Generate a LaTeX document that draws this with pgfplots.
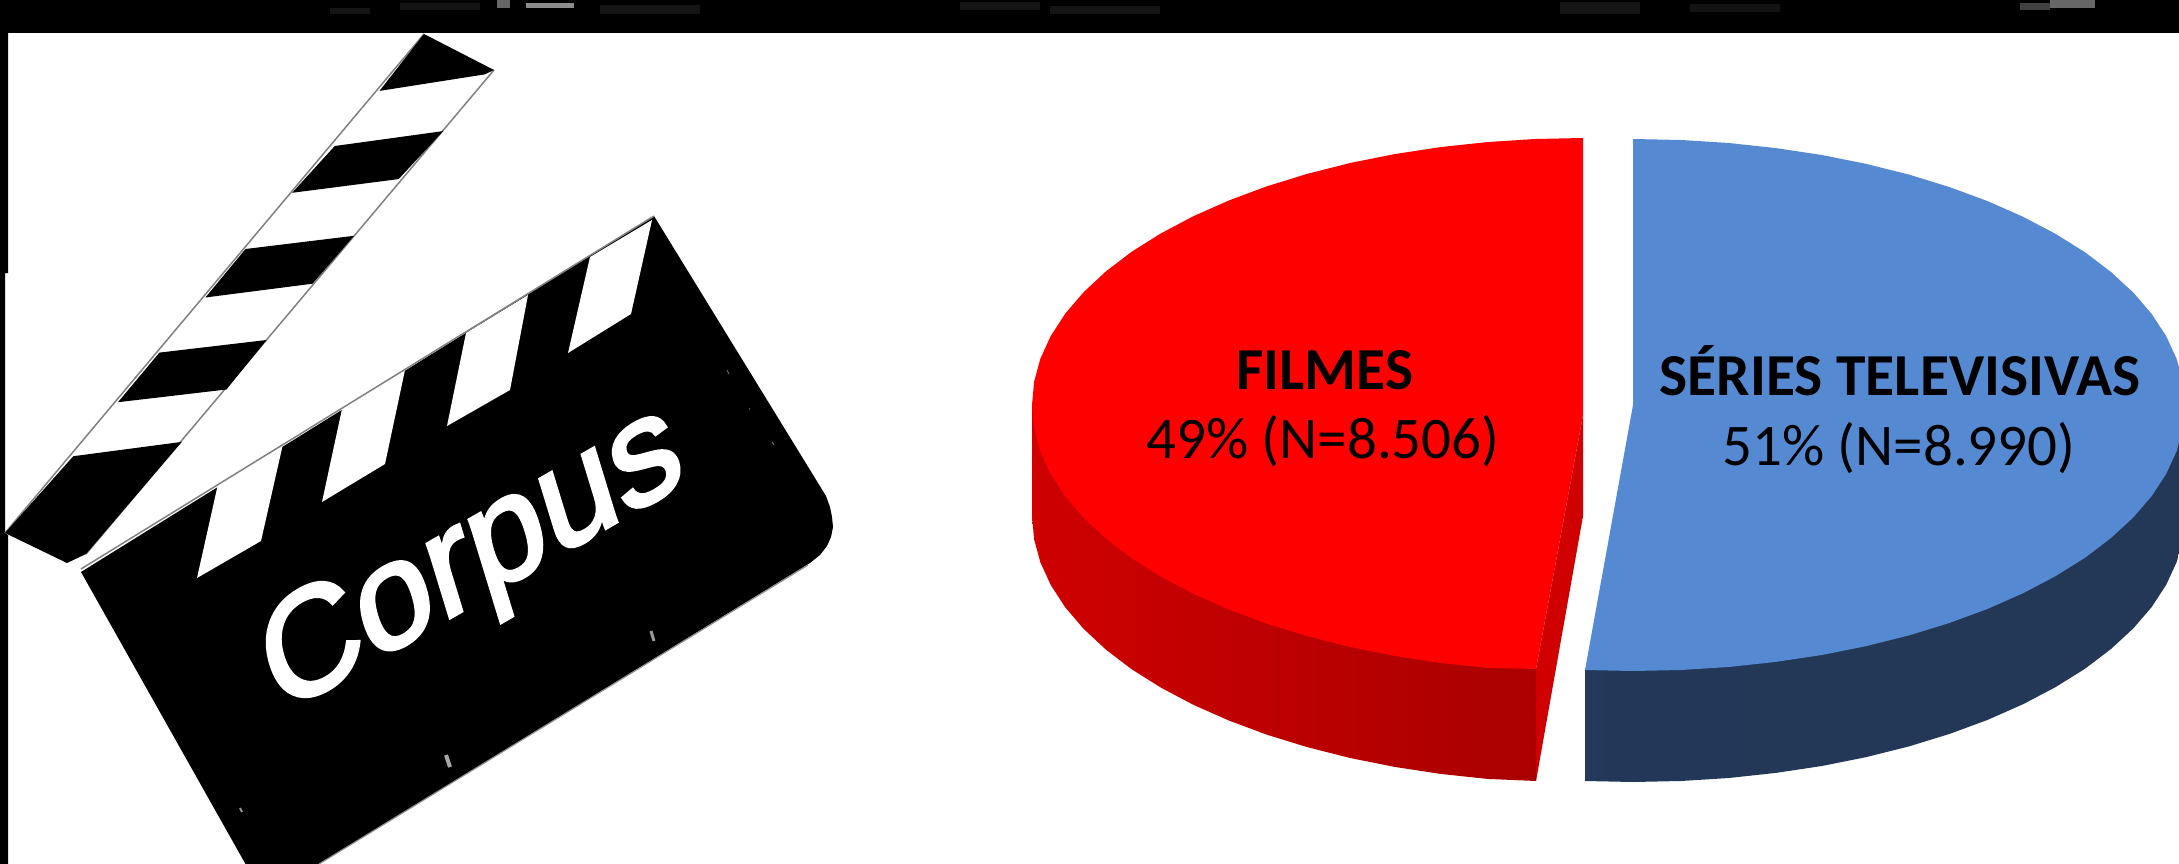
\documentclass[border=0pt]{standalone}
\usepackage{fontspec}
\usepackage{pgfplots}
\pgfplotsset{compat=1.18}
\setmainfont{Carlito}
\newfontfamily\corpusfont[FakeBold=2.5]{Liberation Sans}

\definecolor{pieRed}{RGB}{255,0,0}
\definecolor{pieRedInner}{RGB}{208,0,0}
\definecolor{pieBlue}{RGB}{85,138,211}
\pgfdeclarehorizontalshading{redside}{100bp}{
  rgb(0bp)=(0.847,0,0);
  rgb(25bp)=(0.808,0,0);
  rgb(55bp)=(0.722,0,0);
  rgb(80bp)=(0.647,0,0);
  rgb(100bp)=(0.588,0,0)}
\pgfdeclarehorizontalshading{blueside}{100bp}{
  rgb(0bp)=(0.188,0.322,0.478);
  rgb(15bp)=(0.169,0.290,0.439);
  rgb(27bp)=(0.137,0.220,0.345);
  rgb(100bp)=(0.137,0.212,0.333)}

\begin{document}
\begin{tikzpicture}
\begin{axis}[
  scale only axis, width=2179pt, height=864pt,
  xmin=0, xmax=2179, ymin=0, ymax=864, y dir=reverse,
  axis lines=none, clip=true,
  every axis plot/.append style={no markers, draw=none},
]
% frame left by the slide: dark band and narrow left strip
\addplot[fill=black] coordinates {(0,0)(2179,0)(2179,33)(0,33)};
\addplot[fill=black] coordinates {(0,33)(8,33)(8,273)(5,273)(5,533)(8,535)(8,864)(0,864)};
\addplot[fill=black!60] coordinates {(497,0)(510,0)(510,8)(497,8)};
\addplot[fill=black!45] coordinates {(526,3)(574,3)(574,8)(526,8)};
\addplot[fill=black!60] coordinates {(2050,0)(2095,0)(2095,8)(2050,8)};
\addplot[fill=black!75] coordinates {(2020,3)(2050,3)(2050,10)(2020,10)};
\addplot[fill=black!92] coordinates {(330,8)(370,8)(370,14)(330,14)};
\addplot[fill=black!92] coordinates {(400,3)(480,3)(480,10)(400,10)};
\addplot[fill=black!92] coordinates {(600,5)(700,5)(700,14)(600,14)};
\addplot[fill=black!92] coordinates {(960,2)(1040,2)(1040,10)(960,10)};
\addplot[fill=black!92] coordinates {(1050,6)(1160,6)(1160,14)(1050,14)};
\addplot[fill=black!92] coordinates {(1560,2)(1640,2)(1640,14)(1560,14)};
\addplot[fill=black!92] coordinates {(1690,4)(1780,4)(1780,12)(1690,12)};

% clapperboard stick: black bands on a thin grey outline
\addplot[draw=black!50, line width=1.5pt] coordinates {(424,34)(5,533)};
\addplot[draw=black!50, line width=1.5pt] coordinates {(494,70)(86,554)};
\addplot[fill=black] coordinates {(424,34)(494,70)(484.7,74.4)(379.5,90.9)};
\addplot[fill=black] coordinates {(334.8,146)(443.2,131.1)(398.6,179.1)(292.1,192.8)};
\addplot[fill=black] coordinates {(245.5,249)(354,235.8)(312.5,283.7)(205.4,297.5)};
\addplot[fill=black] coordinates {(159.4,352.6)(266.6,340)(226.4,389.5)(118,402.2)};
\addplot[fill=black] coordinates {(73.3,456.2)(181.8,441.9)(86,554)(67,563)(5,533)};

% clapperboard body with its rounded corner
\addplot[fill=black] coordinates {(654,216)(826,496)(830,507)(832,517)(833,527)(831,537)(827,546)(820,555)(810,563)(319,864)(245.5,864)(81,572)};
\addplot[fill=white] coordinates {(218,484)(283,444)(261,541)(197,578)};
\addplot[fill=white] coordinates {(342,409)(405,370)(385,464)(322,502)};
\addplot[fill=white] coordinates {(466,333)(528,295)(510,390)(447,426)};
\addplot[fill=white] coordinates {(590,257)(652,220)(631,314)(568,353)};
\addplot[draw=black!50, line width=1.5pt] coordinates {(654,216)(81,569)};
\addplot[draw=black!45, line width=1.2pt] coordinates {(808,565)(319,864)};
\addplot[draw=black!40, line width=3pt] coordinates {(651,631)(654,641)};
\addplot[draw=black!35, line width=4pt] coordinates {(446,755)(450,767)};
\addplot[draw=black!40, line width=2pt] coordinates {(240,808)(242,812)};
\addplot[draw=black!60, line width=1pt] coordinates {(727,370)(729,374)};
\addplot[draw=black!70, line width=1pt] coordinates {(749,408)(750,410)};
\addplot[draw=black!60, line width=1pt] coordinates {(772,442)(774,445)};
% the word leans with the slanted board: separate directions for baseline and stems
\coordinate (corpusorigin) at (axis cs:279,716);
\node[text=white, anchor=base west, inner sep=0pt, transform shape,
      cm={1.27,0.73,-0.427,1.396,(corpusorigin)},
      font=\corpusfont\fontsize{100}{100}\selectfont] at (0,0) {Corpus};

% FILMES slice: outer wall, cut face, top surface
\addplot[shade, shading=redside] coordinates {(1032,405)(1032,516)(1034.1,539.3)(1040.4,562.4)(1050.8,585.1)(1065.2,607.3)(1083.6,628.8)(1105.8,649.5)(1131.6,669.2)(1160.9,687.6)(1193.4,704.8)(1228.8,720.5)(1266.9,734.7)(1307.5,747.2)(1350.1,758)(1394.6,766.9)(1440.4,773.9)(1487.3,778.9)(1536,781)(1536,405)};
\addplot[fill=pieRedInner] coordinates {(1583,415)(1583,516)(1536,781)(1536,669)};
\addplot[fill=pieRed] coordinates {(1583,138)(1535,139)(1487.3,142.1)(1440.4,147.1)(1394.6,154.1)(1350.1,163)(1307.5,173.8)(1266.9,186.3)(1228.8,200.5)(1193.4,216.2)(1160.9,233.4)(1131.6,251.8)(1105.8,271.5)(1083.6,292.2)(1065.2,313.7)(1050.8,335.9)(1040.4,358.6)(1034.1,381.7)(1032,405)(1034.1,428.3)(1040.4,451.4)(1050.8,474.1)(1065.2,496.3)(1083.6,517.8)(1105.8,538.5)(1131.6,558.2)(1160.9,576.6)(1193.4,593.8)(1228.8,609.5)(1266.9,623.7)(1307.5,636.2)(1350.1,647)(1394.6,655.9)(1440.4,662.9)(1487.3,667.9)(1536,669)(1583,415)};

% SÉRIES TELEVISIVAS slice: outer wall and top surface
\addplot[shade, shading=blueside] coordinates {(2185,405)(2185,516)(2182.9,539.2)(2176.6,562.2)(2166.2,584.8)(2151.7,607)(2133.3,628.4)(2111,649)(2085.2,668.6)(2055.8,687)(2023.3,704.1)(1987.8,719.8)(1949.6,733.9)(1909,746.4)(1866.3,757.1)(1821.8,766)(1775.9,772.9)(1728.8,778)(1681.1,781)(1633,782)(1585,781)(1585,670)};
\addplot[fill=pieBlue] coordinates {(1633,139)(1681.1,140)(1728.8,143)(1775.9,148.1)(1821.8,155)(1866.3,163.9)(1909,174.6)(1949.6,187.1)(1987.8,201.2)(2023.3,216.9)(2055.8,234)(2085.2,252.4)(2111,272)(2133.3,292.6)(2151.7,314)(2166.2,336.2)(2176.6,358.8)(2182.9,381.8)(2185,405)(2182.9,428.2)(2176.6,451.2)(2166.2,473.8)(2151.7,496)(2133.3,517.4)(2111,538)(2085.2,557.6)(2055.8,576)(2023.3,593.1)(1987.8,608.8)(1949.6,622.9)(1909,635.4)(1866.3,646.1)(1821.8,655)(1775.9,661.9)(1728.8,667)(1681.1,670)(1633,671)(1585,670)(1633,405)};

% slice labels
\node[anchor=base, font=\bfseries\fontsize{59.5}{59.5}\selectfont] at (axis cs:1325,389) {FILMES};
\node[anchor=base, font=\fontsize{59}{59}\selectfont] at (axis cs:1323,458) {49\% (N=8.506)};
\node[anchor=base, font=\bfseries\fontsize{59.5}{59.5}\selectfont] at (axis cs:1900,395) {SÉRIES TELEVISIVAS};
\node[anchor=base, font=\fontsize{59}{59}\selectfont] at (axis cs:1899,465) {51\% (N=8.990)};
\end{axis}
\end{tikzpicture}
\end{document}
